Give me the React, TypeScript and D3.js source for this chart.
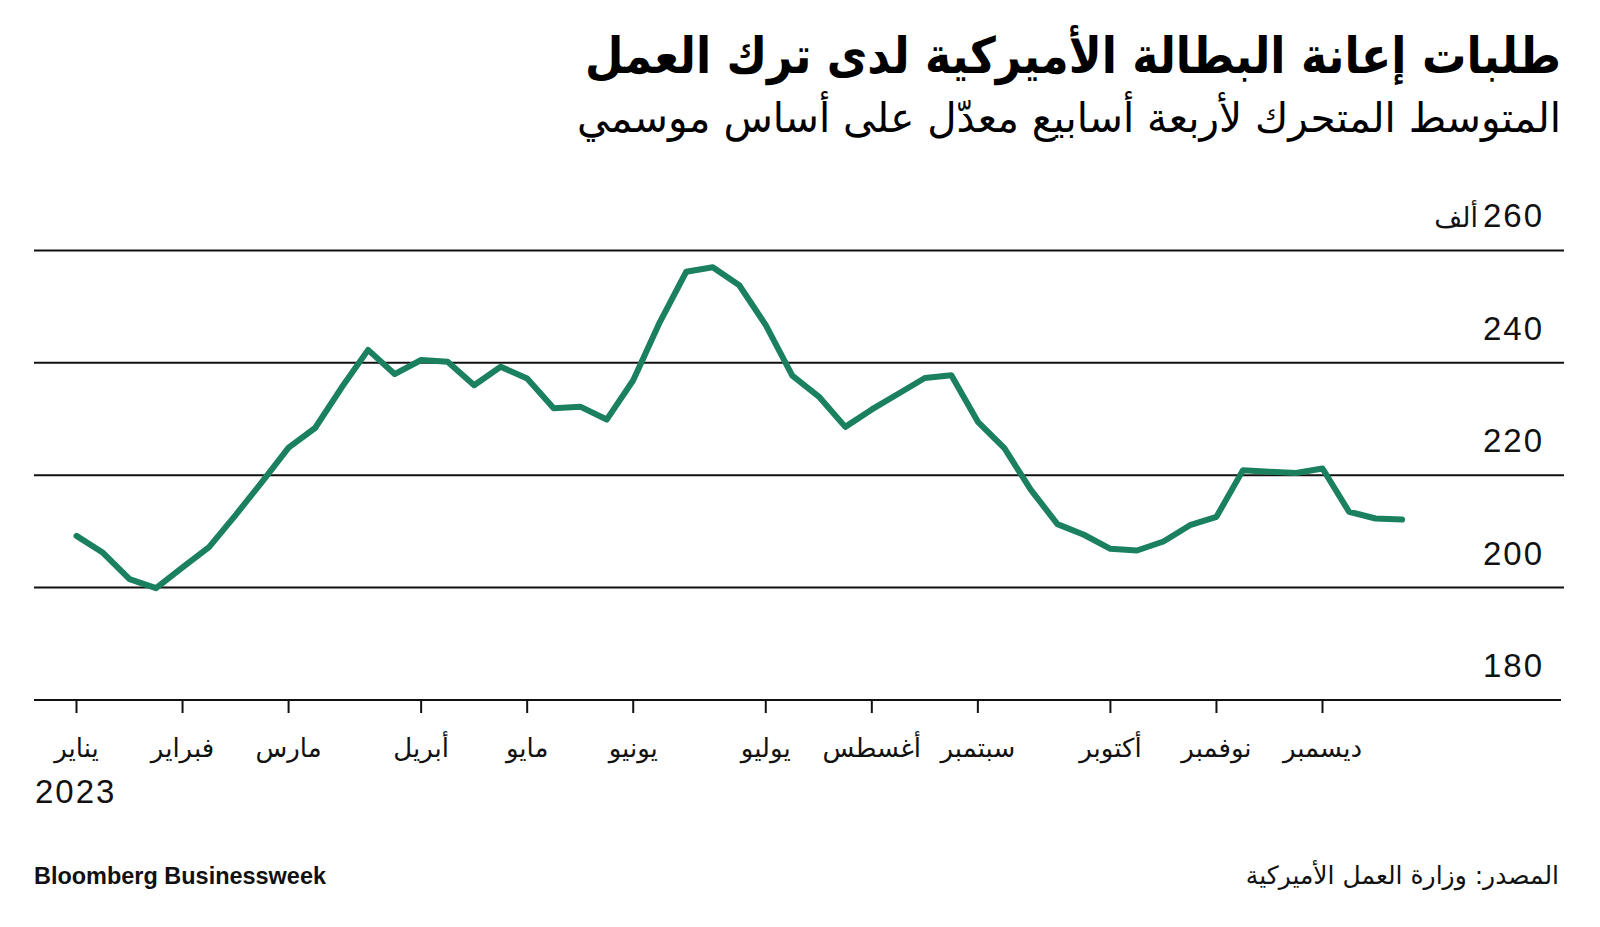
import React, { useEffect, useRef } from 'react';
import * as d3 from 'd3';

// weekly 4-week moving average, thousands
const claims = [
  209.2, 206.2, 201.5, 199.9, 203.6, 207.2, 212.9, 218.8, 224.9, 228.4,
  235.6, 242.3, 238.0, 240.5, 240.2, 236.0, 239.3, 237.2, 231.9, 232.2,
  229.9, 236.9, 247.2, 256.2, 257.0, 253.8, 246.7, 237.7, 234.0, 228.6,
  231.7, 234.5, 237.3, 237.8, 229.5, 224.8, 217.4, 211.3, 209.4, 206.9,
  206.6, 208.2, 211.1, 212.6, 220.9, 220.6, 220.4, 221.2, 213.5, 212.3,
  212.1,
];

const monthLabels = ['يناير', 'فبراير', 'مارس', 'أبريل', 'مايو', 'يونيو', 'يوليو', 'أغسطس', 'سبتمبر', 'أكتوبر', 'نوفمبر', 'ديسمبر'];
const monthWeekIndex = [0, 4, 8, 13, 17, 21, 26, 30, 34, 39, 43, 47];
const yTicks = [180, 200, 220, 240, 260];

const title = 'طلبات إعانة البطالة الأميركية لدى ترك العمل';
const subtitle = 'المتوسط المتحرك لأربعة أسابيع معدّل على أساس موسمي';
const source = 'المصدر: وزارة العمل الأميركية';

const arabicFont = '"DejaVu Sans", sans-serif';
const numFont = '"Liberation Sans", Arial, sans-serif';

export default function App() {
  const svgRef = useRef<SVGSVGElement>(null);

  const width = 1600;
  const height = 927;

  useEffect(() => {
    const svg = d3.select(svgRef.current);
    svg.selectAll('*').remove();

    const x = d3.scaleLinear().domain([0, 47]).range([76.5, 1322.5]);
    const y = d3.scaleLinear().domain([180, 260]).range([700, 250.4]);

    // title block
    svg.append('text')
      .attr('x', 1561).attr('y', 73)
      .attr('text-anchor', 'end')
      .attr('font-family', arabicFont)
      .attr('font-weight', 'bold')
      .attr('font-size', 50)
      .attr('textLength', 976)
      .attr('lengthAdjust', 'spacingAndGlyphs')
      .text(title);

    svg.append('text')
      .attr('x', 1561).attr('y', 132)
      .attr('text-anchor', 'end')
      .attr('font-family', arabicFont)
      .attr('font-size', 41)
      .attr('textLength', 984)
      .attr('lengthAdjust', 'spacingAndGlyphs')
      .text(subtitle);

    // gridlines
    const g = svg.append('g');
    g.selectAll('line.grid')
      .data(yTicks.filter(d => d > 180))
      .enter()
      .append('line')
      .attr('x1', 34).attr('x2', 1564)
      .attr('y1', d => y(d)).attr('y2', d => y(d))
      .attr('stroke', '#111').attr('stroke-width', 2);

    // y labels
    g.selectAll('text.ylab')
      .data(yTicks)
      .enter()
      .append('text')
      .attr('x', 1544)
      .attr('y', d => y(d) - 23)
      .attr('text-anchor', 'end')
      .attr('font-family', numFont)
      .attr('font-size', 33)
      .attr('letter-spacing', 2)
      .attr('fill', '#111')
      .text(d => d);

    g.append('text')
      .attr('x', 1478)
      .attr('y', y(260) - 23)
      .attr('text-anchor', 'end')
      .attr('font-family', arabicFont)
      .attr('font-size', 27)
      .attr('fill', '#111')
      .text('ألف');

    // x axis
    g.append('line')
      .attr('x1', 34).attr('x2', 1561)
      .attr('y1', y(180)).attr('y2', y(180))
      .attr('stroke', '#111').attr('stroke-width', 2);

    g.selectAll('line.tick')
      .data(monthWeekIndex)
      .enter()
      .append('line')
      .attr('x1', d => x(d)).attr('x2', d => x(d))
      .attr('y1', y(180)).attr('y2', y(180) + 13)
      .attr('stroke', '#111').attr('stroke-width', 2);

    g.selectAll('text.month')
      .data(monthLabels)
      .enter()
      .append('text')
      .attr('x', (d, i) => x(monthWeekIndex[i]))
      .attr('y', 757)
      .attr('text-anchor', 'middle')
      .attr('font-family', arabicFont)
      .attr('font-size', 26)
      .attr('fill', '#111')
      .text(d => d);

    g.append('text')
      .attr('x', 35).attr('y', 803)
      .attr('font-family', numFont)
      .attr('font-size', 33)
      .attr('letter-spacing', 2)
      .attr('fill', '#111')
      .text('2023');

    // line
    const line = d3.line<number>()
      .x((d, i) => x(i))
      .y(d => y(d));

    g.append('path')
      .datum(claims)
      .attr('d', line)
      .attr('fill', 'none')
      .attr('stroke', '#1a8060')
      .attr('stroke-width', 6)
      .attr('stroke-linejoin', 'round')
      .attr('stroke-linecap', 'round');

    // footer
    svg.append('text')
      .attr('x', 34).attr('y', 884)
      .attr('font-family', numFont)
      .attr('font-weight', 'bold')
      .attr('font-size', 23)
      .attr('textLength', 292)
      .attr('lengthAdjust', 'spacingAndGlyphs')
      .attr('fill', '#111')
      .text('Bloomberg Businessweek');

    svg.append('text')
      .attr('x', 1559).attr('y', 884)
      .attr('text-anchor', 'end')
      .attr('font-family', arabicFont)
      .attr('font-size', 25)
      .attr('fill', '#111')
      .text(source);
  }, []);

  return (
    <div style={{ position: 'absolute', left: 0, top: 0, background: '#fff' }}>
      <svg ref={svgRef} width={width} height={height}></svg>
    </div>
  );
}
